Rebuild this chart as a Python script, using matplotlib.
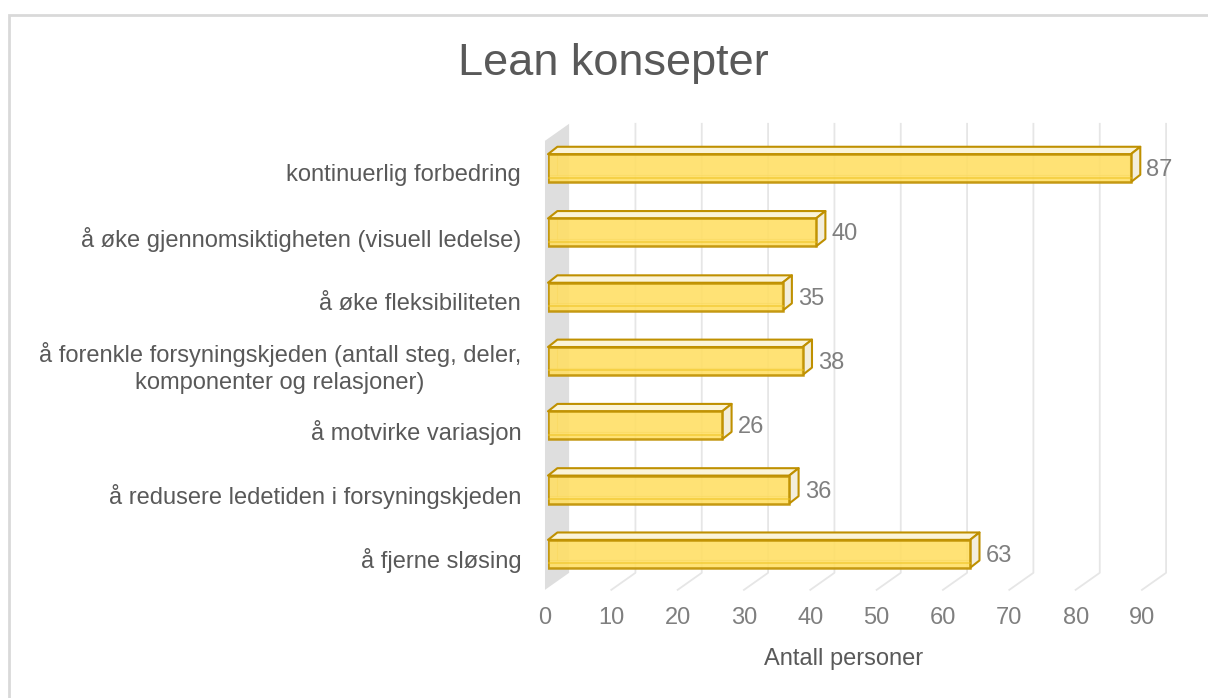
import matplotlib.pyplot as plt
from matplotlib.patches import Polygon, Rectangle

plt.rcParams['font.family'] = ['Liberation Sans', 'DejaVu Sans']

# Data (bottom to top)
categories = [
    "å fjerne sløsing",
    "å redusere ledetiden i forsyningskjeden",
    "å motvirke variasjon",
    "å forenkle forsyningskjeden (antall steg, deler,\nkomponenter og relasjoner)",
    "å øke fleksibiliteten",
    "å øke gjennomsiktigheten (visuell ledelse)",
    "kontinuerlig forbedring",
]
values = [63, 36, 26, 38, 35, 40, 87]
xticks = [0, 10, 20, 30, 40, 50, 60, 70, 80, 90]

# Colors
FRONT = '#FFDF66'
EDGE = '#BF9000'
TOP = '#FBF4D8'
SIDE = '#F3EEDC'
GRID = '#E6E6E6'
WALL = '#DEDEDE'

fig = plt.figure(figsize=(12.08, 6.98), dpi=100)
W, H = 1208, 698

# outer chart border (only top and left visible)
fig.patches.append(Rectangle((9 / W, -0.2), 1.2, 0.2 + (H - 15) / H, transform=fig.transFigure,
                             fill=False, edgecolor='#D9D9D9', linewidth=2))

ax = fig.add_axes([548 / W, (H - 586) / H, 603 / W, 450 / H])
ax.set_xlim(0, 90)
ax.set_ylim(-0.5, 6.5)
ax.axis('off')

# pseudo 3D geometry (data units)
dx_full, dy_full = 3.6, 0.265      # depth of the floor / wall
x0 = -0.45                          # front floor offset
persp = 0.99                        # floor scale vs. bar plane
y_floor = -0.56
y_top_back = 6.69
h = 0.435                           # bar front height
bdx, bdy = 1.4, 0.115               # bar depth

# side wall
ax.add_patch(Polygon([(x0, y_floor), (x0, y_top_back - dy_full),
                      (x0 + dx_full, y_top_back), (x0 + dx_full, y_floor + dy_full)],
                     closed=True, facecolor=WALL, edgecolor='none', clip_on=False, zorder=0))

# gridlines: floor diagonal + back wall vertical
for t in xticks[1:]:
    xf = x0 + t * persp
    ax.plot([xf, xf + dx_full, xf + dx_full], [y_floor, y_floor + dy_full, y_top_back],
            color=GRID, linewidth=1.3, clip_on=False, zorder=0.5)

# bars
for i, v in enumerate(values):
    yb, yt = i - h / 2, i + h / 2
    # back outline seen through the transparent front
    ax.plot([bdx, bdx], [yb + bdy, yt], color=EDGE, linewidth=0.8, alpha=0.5, zorder=2)
    ax.plot([0, v], [yb + bdy, yb + bdy], color=EDGE, linewidth=0.8, alpha=0.5, zorder=2)
    ax.add_patch(Polygon([(0, yt), (v, yt), (v + bdx, yt + bdy), (bdx, yt + bdy)],
                         closed=True, facecolor=TOP, edgecolor=EDGE, linewidth=1.5,
                         joinstyle='round', clip_on=False, zorder=3))
    ax.add_patch(Polygon([(v, yb), (v, yt), (v + bdx, yt + bdy), (v + bdx, yb + bdy)],
                         closed=True, facecolor=SIDE, edgecolor=EDGE, linewidth=1.5,
                         joinstyle='round', clip_on=False, zorder=3))
ax.barh(range(len(values)), values, height=h, color=FRONT, alpha=0.9,
        edgecolor=EDGE, linewidth=1.8, zorder=4)
for i, v in enumerate(values):
    ax.plot([0, v], [i - h / 2 + 0.07, i - h / 2 + 0.07], color='#EFC21A',
            linewidth=1.2, alpha=0.6, zorder=5)

# value labels
for i, v in enumerate(values):
    ax.text(v + bdx + 0.9, i - 0.03, str(v), ha='left', va='center',
            fontsize=17, color='#7F7F7F', zorder=6)

# category labels
for i, c in enumerate(categories):
    ax.text(-4.0, i - 0.11, c, ha='right', va='center', multialignment='center',
            fontsize=17, color='#595959', linespacing=1.3)

# x tick labels
for t in xticks:
    ax.text(x0 + t * persp, -1.0, str(t), ha='center', va='center', fontsize=17, color='#7F7F7F')

ax.text(x0 + 45 * persp, -1.63, 'Antall personer', ha='center', va='center',
        fontsize=17, color='#595959')

fig.text(613 / W, 1 - 64 / H, 'Lean konsepter', ha='center', va='center',
         fontsize=32.5, color='#595959')

fig.savefig('out.png', dpi=100)
